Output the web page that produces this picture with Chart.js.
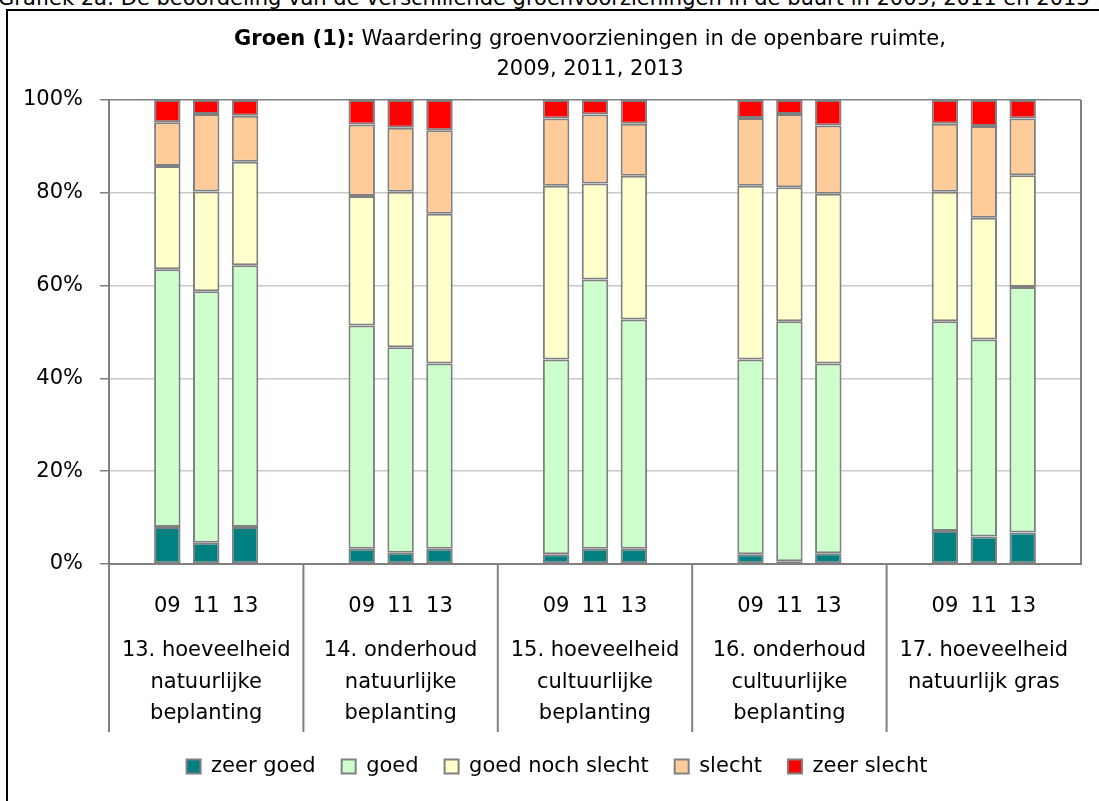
<!DOCTYPE html>
<html>
<head>
<meta charset="utf-8">
<script src="https://cdn.jsdelivr.net/npm/chart.js@4"></script>
<style>
  html, body { margin: 0; padding: 0; background: #fff; overflow: hidden; width: 1099px; height: 801px; }
  body { position: relative; font-family: "DejaVu Sans", sans-serif; color: #000; }
  #kop { position: absolute; left: -2px; top: -13px; font-size: 21px; line-height: 22px; white-space: nowrap; }
  #kader { position: absolute; left: 6px; top: 9px; width: 1176px; height: 830px; border: 2px solid #000; box-sizing: border-box; }
  #titel { position: absolute; left: 0; top: 23px; width: 1180px; text-align: center; font-size: 21px; line-height: 30px; }
  #groen { position: absolute; left: 0; top: 0; }
</style>
</head>
<body>
<div id="kop">Grafiek 2a: De beoordeling van de verschillende groenvoorzieningen in de buurt in 2009, 2011 en 2013</div>
<div id="kader">
  <canvas id="groen" width="1172" height="785"></canvas>
</div>
<div id="titel"><b>Groen (1):</b> Waardering groenvoorzieningen in de openbare ruimte,<br>2009, 2011, 2013</div>
<script>
// rubrieken en jaren
const groups = [
    ['13. hoeveelheid', 'natuurlijke', 'beplanting'],
    ['14. onderhoud', 'natuurlijke', 'beplanting'],
    ['15. hoeveelheid', 'cultuurlijke', 'beplanting'],
    ['16. onderhoud', 'cultuurlijke', 'beplanting'],
    ['17. hoeveelheid', 'natuurlijk gras']
];
const years = ['09', '11', '13'];
const yTicks = [0, 20, 40, 60, 80, 100];

// percentages per balk (09, 11, 13 per rubriek)
const zeerGoed       = [8.0, 4.6, 8.0,  3.3, 2.4, 3.3,  2.1, 3.3, 3.3,  2.1, 0.6, 2.3,  7.1, 5.9, 6.8];
const goed           = [55.5, 54.2, 56.4,  48.1, 44.3, 39.9,  42.0, 58.0, 49.4,  42.0, 51.7, 40.9,  45.2, 42.5, 52.9];
const goedNochSlecht = [22.3, 21.5, 22.3,  27.9, 33.5, 32.3,  37.4, 20.7, 31.0,  37.4, 28.9, 36.6,  27.9, 26.2, 24.1];
const slecht         = [9.4, 16.7, 9.9,  15.4, 13.8, 18.0,  14.5, 14.9, 11.2,  14.6, 15.8, 14.7,  14.7, 19.8, 12.2];
const zeerSlecht     = [4.8, 3.0, 3.4,  5.3, 6.0, 6.5,  4.0, 3.1, 5.1,  3.9, 3.0, 5.5,  5.1, 5.6, 4.0];

const FONT = 'DejaVu Sans';
const GREY = '#808080';

// elke rubriek: lege plek, 09, 11, 13, lege plek
const labels = [];
groups.forEach(() => labels.push('', ...years, ''));
function spread(values) {
    const out = [];
    groups.forEach((g, i) => out.push(null, values[3 * i], values[3 * i + 1], values[3 * i + 2], null));
    return out;
}

function series(label, values, color) {
    return {
        label: label,
        data: spread(values),
        backgroundColor: color,
        borderColor: GREY,
        borderWidth: 2,
        borderSkipped: false,
        barPercentage: 0.68,
        categoryPercentage: 1
    };
}

// rubrieknamen en scheidingslijnen onder de as
const groupAxis = {
    id: 'groupAxis',
    afterLayout(chart) {
        // legenda iets naar rechts, zoals in het origineel
        chart.legend.left += 11;
        chart.legend.right += 11;
    },
    afterDraw(chart) {
        const c = chart.ctx;
        const x = chart.scales.x;
        const area = chart.chartArea;
        const slot = x.getPixelForValue(1) - x.getPixelForValue(0);
        c.save();
        c.strokeStyle = GREY;
        c.lineWidth = 2;
        c.beginPath();
        c.moveTo(area.right, area.top);
        c.lineTo(area.right, area.bottom);
        groups.forEach((g, i) => {
            const left = x.getPixelForValue(5 * i) - slot / 2;
            c.moveTo(left, area.bottom);
            c.lineTo(left, area.bottom + 168);
        });
        c.stroke();
        c.fillStyle = '#000';
        c.font = '21px "' + FONT + '"';
        c.textAlign = 'center';
        c.textBaseline = 'middle';
        groups.forEach((g, i) => {
            const cx = x.getPixelForValue(5 * i + 2);
            g.forEach((line, j) => c.fillText(line, cx, area.bottom + 87 + j * 31.5));
        });
        c.restore();
    }
};

const ctx = document.getElementById('groen').getContext('2d');
const chart = new Chart(ctx, {
    type: 'bar',
    data: {
        labels: labels,
        datasets: [
            series('zeer goed', zeerGoed, '#008080'),
            series('goed', goed, '#CCFFCC'),
            series('goed noch slecht', goedNochSlecht, '#FFFFCC'),
            series('slecht', slecht, '#FFCC99'),
            series('zeer slecht', zeerSlecht, '#FF0000')
        ]
    },
    options: {
        responsive: false,
        animation: false,
        devicePixelRatio: 1,
        layout: {
            padding: { left: 3, right: 99, top: 89, bottom: 9 }
        },
        plugins: {
            tooltip: { enabled: false },
            legend: {
                position: 'bottom',
                labels: {
                    font: { family: FONT, size: 21 },
                    color: '#000',
                    boxWidth: 14,
                    boxHeight: 14,
                    padding: 26
                }
            }
        },
        scales: {
            x: {
                stacked: true,
                grid: { display: false },
                border: { color: GREY, width: 2 },
                ticks: {
                    autoSkip: false,
                    maxRotation: 0,
                    padding: 22,
                    color: '#000',
                    font: { family: FONT, size: 21 }
                },
                afterFit: (scale) => { scale.height = 166; }
            },
            y: {
                stacked: true,
                min: 0,
                max: 100,
                afterBuildTicks: (scale) => { scale.ticks = yTicks.map(v => ({ value: v })); },
                grid: {
                    color: (c) => c.tick && c.tick.value === 100 ? GREY : '#C8C8C8',
                    tickColor: GREY,
                    lineWidth: 1.5,
                    tickLength: 9
                },
                border: { color: GREY, width: 2 },
                ticks: {
                    padding: 17,
                    color: '#000',
                    font: { family: FONT, size: 21 },
                    callback: (v) => v + '%'
                },
                afterFit: (scale) => { scale.width = 98; }
            }
        }
    },
    plugins: [groupAxis]
});
</script>
</body>
</html>
